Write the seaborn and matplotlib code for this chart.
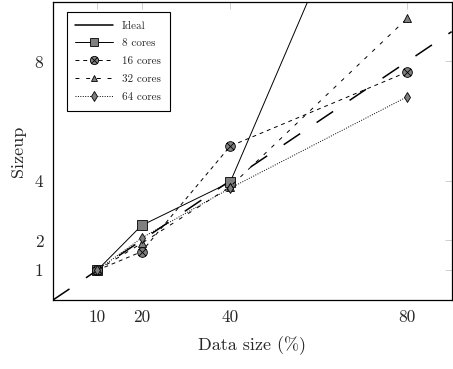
import numpy as np
import pandas as pd
import matplotlib
matplotlib.use("Agg")
import matplotlib.pyplot as plt
from matplotlib.path import Path
import seaborn as sns

# data
data_size = [10, 20, 40, 80]
sizeup_8 = [1.0, 2.5, 3.95, 17.8]
sizeup_16 = [1.0, 1.62, 5.16, 7.65]
sizeup_32 = [1.0, 1.9, 3.8, 9.45]
sizeup_64 = [1.0, 2.08, 3.75, 6.82]
ideal_y = [1, 2, 4, 8]
xticks = [10, 20, 40, 80]
yticks = [1, 2, 4, 8]

sns.set_style("white")
plt.rcParams['font.family'] = ['cmr10', 'DejaVu Serif']
plt.rcParams['mathtext.fontset'] = 'cm'
plt.rcParams['axes.formatter.use_mathtext'] = True

# circle with a cross, like pgfplots "otimes*"
circ = Path.unit_circle()
d = 0.7071
cross = Path([[-d, -d], [d, d], [-d, d], [d, -d]],
             [Path.MOVETO, Path.LINETO, Path.MOVETO, Path.LINETO])
otimes = Path.make_compound_path(circ, cross)

fig, ax = plt.subplots(figsize=(4.53, 3.69), dpi=100)
fig.subplots_adjust(left=0.117, right=0.997, bottom=0.187, top=0.995)

ax.axline((data_size[0], ideal_y[0]), (data_size[-1], ideal_y[-1]),
          color='black', lw=1.1, dashes=(13, 13), label='Ideal')

grey = '#7f7f7f'
series = [
    (sizeup_8, '8 cores', 's', 6.5, (None, None), '-'),
    (sizeup_16, '16 cores', otimes, 7, (4, 4), '--'),
    (sizeup_32, '32 cores', '^', 5.5, (4, 7), '--'),
    (sizeup_64, '64 cores', 'd', 5.5, (1, 1.5), ':'),
]
for vals, lab, mk, ms, dash, ls in series:
    kw = dict(x=data_size, y=vals, ax=ax, color='black', lw=0.7,
              marker=mk, markersize=ms, markerfacecolor=grey,
              markeredgecolor='black', markeredgewidth=0.6, label=lab)
    line = sns.lineplot(**kw).lines[-1]
    if ls != '-':
        line.set_dashes(dash)

ax.set_xlim(0, 90)
ax.set_ylim(0, 10)
ax.set_xticks(xticks)
ax.set_yticks(yticks)
ax.set_xticklabels([str(t) for t in xticks])
ax.set_yticklabels([str(t) for t in yticks])
ax.tick_params(direction='in', length=5, width=0.6, color='#c8c8c8',
               top=True, right=True, labelsize=12.5, pad=7)
for sp in ax.spines.values():
    sp.set_color('black')
    sp.set_linewidth(0.9)

ax.set_xlabel('Data size (%)', fontsize=13, labelpad=8)
ax.set_ylabel('Sizeup', fontsize=13, labelpad=6)

leg = ax.legend(loc='upper left', fontsize=8, frameon=True, fancybox=False,
                edgecolor='black', framealpha=1, borderpad=0.8,
                labelspacing=0.72, handlelength=3.4, markerscale=0.85,
                bbox_to_anchor=(0.02, 0.985))
leg.get_frame().set_linewidth(0.8)
leg.get_lines()[0].set_linestyle('-')

fig.savefig('out.png', dpi=100)
